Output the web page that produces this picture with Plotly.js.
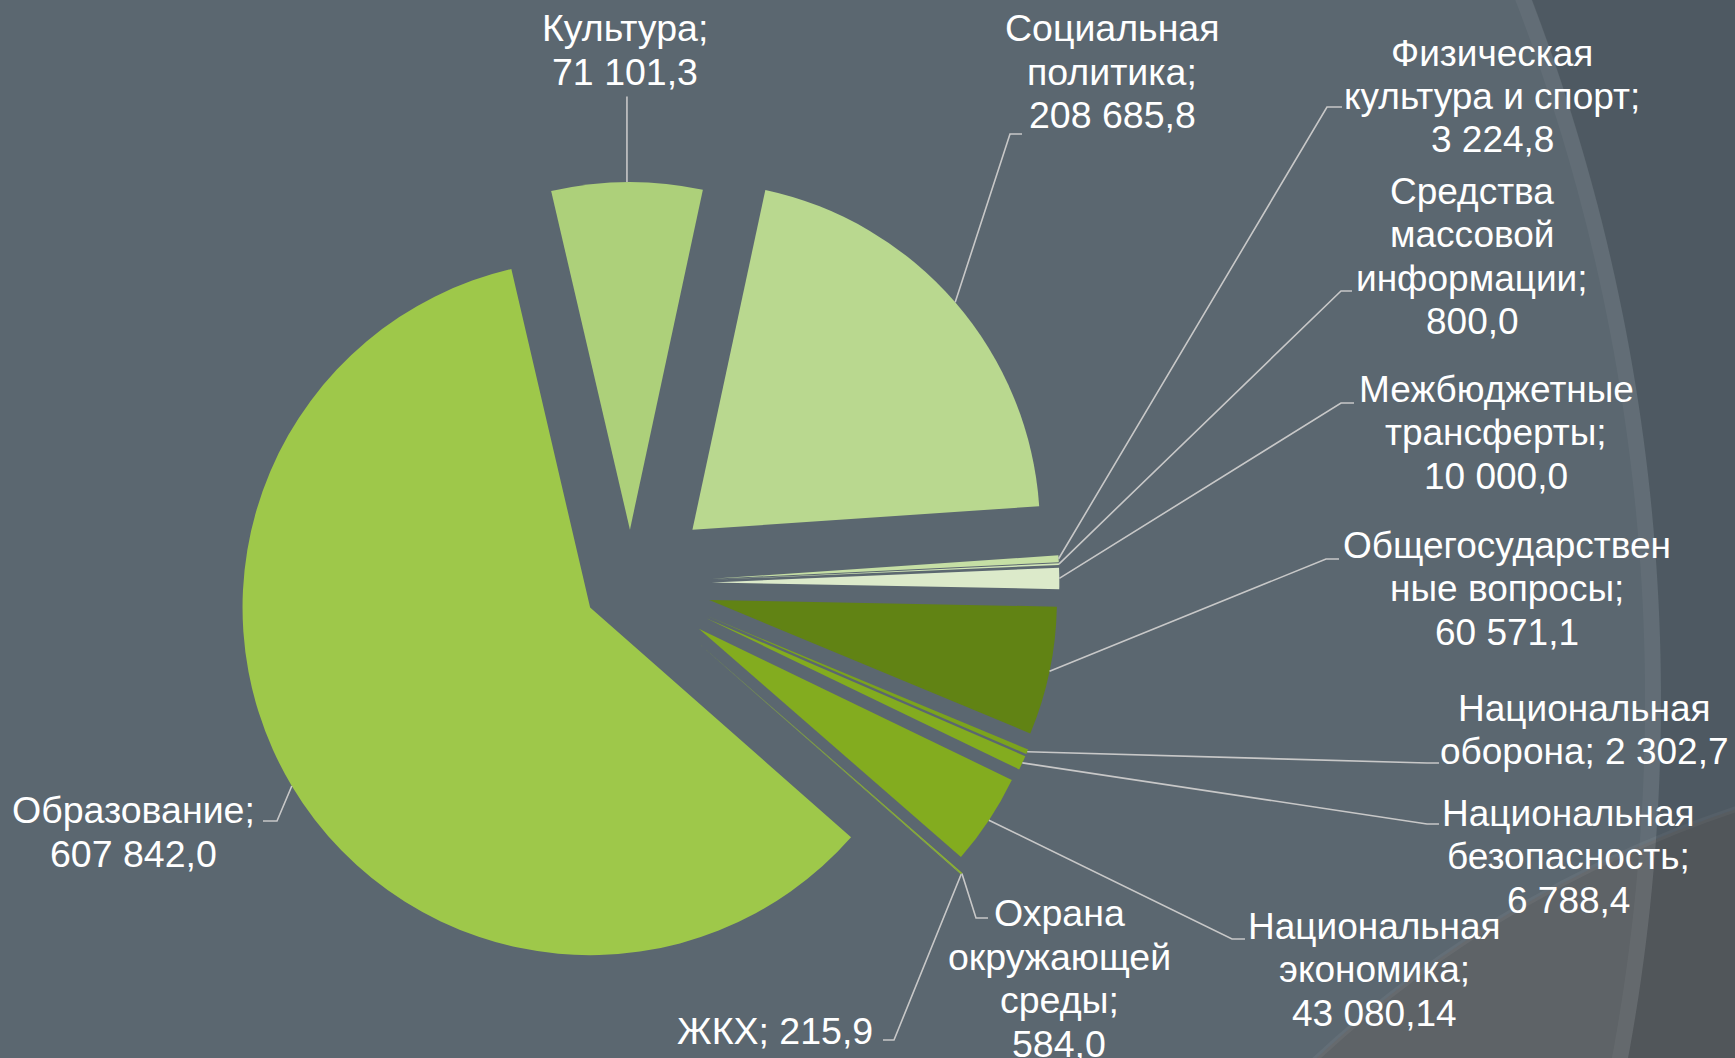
<!DOCTYPE html>
<html><head><meta charset="utf-8">
<script src="https://cdn.plot.ly/plotly-3.0.1.min.js"></script>
<style>html,body{margin:0;padding:0;background:#5B6770;overflow:hidden}#chart{width:1735px;height:1058px}</style>
</head><body><div id="chart"></div>
<script>
// ---- data ----
const categories = ['Культура','Социальная политика','Физическая культура и спорт','Средства массовой информации','Межбюджетные трансферты','Общегосударственные вопросы','Национальная оборона','Национальная безопасность','Национальная экономика','Охрана окружающей среды','ЖКХ','Образование'];
const values = [71101.3, 208685.8, 3224.8, 800.0, 10000.0, 60571.1, 2302.7, 6788.4, 43080.14, 584.0, 215.9, 607842.0];
const labelLines = [
  ['Культура;','71 101,3'],
  ['Социальная','политика;','208 685,8'],
  ['Физическая','культура и спорт;','3 224,8'],
  ['Средства','массовой','информации;','800,0'],
  ['Межбюджетные','трансферты;','10 000,0'],
  ['Общегосударствен','ные вопросы;','60 571,1'],
  ['Национальная','оборона; 2 302,7'],
  ['Национальная','безопасность;','6 788,4'],
  ['Национальная','экономика;','43 080,14'],
  ['Охрана','окружающей','среды;','584,0'],
  ['ЖКХ; 215,9'],
  ['Образование;','607 842,0']
];

// ---- styles ----
const colors = ['#ADD07A','#B9D88F','#C6DFA5','#D2E6B8','#DCEACA','#618314','#7BA31D','#83AC1F','#83AC1F','#90B82A','#98C238','#9EC84A'];
const pulls = [0.155,0.236,0.234,0.234,0.234,0.232,0.24,0.24,0.236,0.267,0.267,0.135];
const FONT = "'Liberation Sans',Arial,sans-serif";
const SIZE_N = 37.5, SIZE_W = 37;
// label layout: x center (px), first line y (px), font size, anchor, leader (elbow, end)
const labelPos = [
  {x:625,  y:28,  s:SIZE_N, xa:'center', lead:null},
  {x:1112, y:28,  s:SIZE_N, xa:'center', lead:[[1010,134],[1022,134]]},
  {x:1492, y:53,  s:SIZE_W, xa:'center', lead:[[1327,107],[1342,107]]},
  {x:1472, y:191, s:SIZE_W, xa:'center', lead:[[1341,291],[1352,291]]},
  {x:1496, y:389, s:SIZE_W, xa:'center', lead:[[1341,403],[1354,403]]},
  {x:1507, y:545, s:SIZE_W, xa:'center', lead:[[1326,559],[1339,559]]},
  {x:1584, y:708, s:SIZE_W, xa:'center', lead:[[1427,763],[1439,763]]},
  {x:1568, y:813, s:SIZE_W, xa:'center', lead:[[1427,824],[1439,824]]},
  {x:1374, y:926, s:SIZE_W, xa:'center', lead:[[1232,939],[1245,939]]},
  {x:1059, y:913, s:SIZE_N, xa:'center', lead:[[976,918],[988,918]]},
  {x:875,  y:1031,s:SIZE_N, xa:'right',  lead:[[894,1040],[883,1040]]},
  {x:133,  y:810, s:SIZE_N, xa:'center', lead:[[277,821],[263,821]]}
];
const LINE_STEP = 43.5;
const W = 1735, H = 1058;
const CX = 630.4, CY = 583.5, BOX = 880.8;

const px = v => v / W, py = v => 1 - v / H;

// decorative background arcs
function arcPoints(cx, cy, R, y0, y1, n) {
  const pts = [];
  for (let k = 0; k <= n; k++) {
    const y = y0 + (y1 - y0) * k / n;
    const d = R*R - (y-cy)*(y-cy);
    pts.push([cx + Math.sqrt(Math.max(d,0)), y]);
  }
  return pts;
}
const toPath = (pts, close) => 'M' + pts.map(q => px(q[0]).toFixed(5) + ',' + py(q[1]).toFixed(5)).join(' L') + (close ? ' Z' : '');
const rimPts = arcPoints(-300, 700, 1961, -10, H + 10, 60);
const darkRegion = rimPts.concat([[W + 10, H + 10], [W + 10, -10]]);

const bgShapes = [
  {type:'circle', xref:'paper', yref:'paper', x0:px(2100-1150), x1:px(2100+1150), y0:py(1900+1150), y1:py(1900-1150),
    fillcolor:'#5E6367', line:{color:'rgba(255,255,255,0.05)', width:6}, layer:'below'},
  {type:'path', xref:'paper', yref:'paper', path:toPath(darkRegion, true), fillcolor:'rgba(20,25,30,0.17)', line:{width:0}, layer:'below'},
  {type:'path', xref:'paper', yref:'paper', path:toPath(rimPts.map(q => [q[0]-8, q[1]]), false), line:{color:'rgba(255,255,255,0.045)', width:16}, layer:'below'}
];

const trace = {
  type:'pie', labels:categories, values:values, sort:false, direction:'clockwise', rotation:-13.1,
  pull:pulls, marker:{colors:colors, line:{width:0}}, textinfo:'none', hoverinfo:'label+value',
  domain:{x:[px(CX-520), px(CX+520)], y:[py(CY+BOX/2), py(CY-BOX/2)]}, showlegend:false
};

const annotations = [];
labelLines.forEach((lines, i) => {
  const p = labelPos[i];
  lines.forEach((t, k) => {
    annotations.push({text:t, xref:'paper', yref:'paper', x:px(p.x), y:py(p.y + k*LINE_STEP),
      xanchor:p.xa, yanchor:'middle', showarrow:false, font:{family:FONT, size:p.s, color:'#FFFFFF'}});
  });
});

const layout = {width:W, height:H, margin:{l:0,r:0,t:0,b:0}, paper_bgcolor:'#5B6770',
  showlegend:false, shapes:bgShapes, annotations:annotations};

const gd = document.getElementById('chart');
Plotly.newPlot(gd, [trace], layout, {staticPlot:true}).then(() => {
  const cd = gd.calcdata[0];
  const cx = cd[0].cx, cy = cd[0].cy;
  const lead = [];
  cd.forEach((pt, i) => {
    const p = labelPos[i];
    const k = 1 + pulls[i];
    const ax = cx + pt.pxmid[0]*k, ay = cy + pt.pxmid[1]*k;
    let pts;
    if (p.lead) pts = [[ax, ay]].concat(p.lead);
    else pts = [[ax, ay], [ax, p.y + (labelLines[i].length-1)*LINE_STEP + 25]];
    lead.push({type:'path', xref:'paper', yref:'paper', path:toPath(pts, false), line:{color:'#C8C8C8', width:1.6}, layer:'above'});
  });
  Plotly.relayout(gd, {shapes: bgShapes.concat(lead)});
});
</script></body></html>
